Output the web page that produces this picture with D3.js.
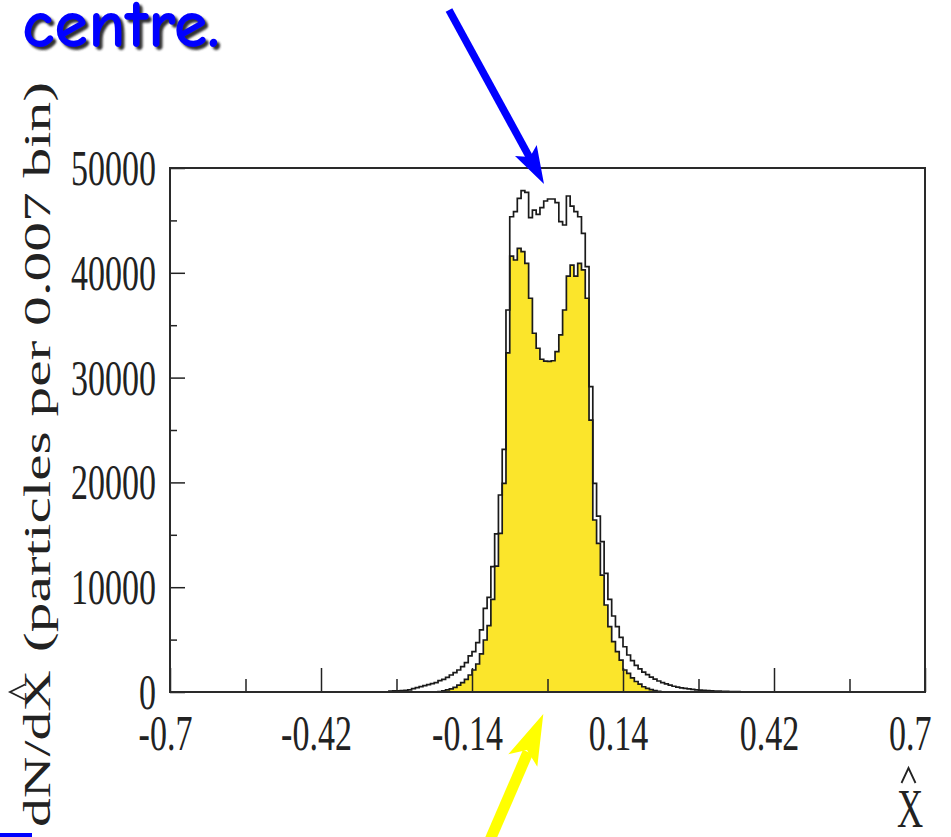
<!DOCTYPE html>
<html><head><meta charset="utf-8">
<script src="https://cdn.jsdelivr.net/npm/d3@7"></script>
<style>body{margin:0;background:#fff;} svg{display:block;}</style>
</head><body>
<svg id="c" width="951" height="837"></svg>
<script>
// ---------------- data ----------------
const binWidth = 0.007;
// all particles (white histogram, outline only)
const totalFirstEdge = -0.294;
const totalCounts = [
  80, 100, 110, 130, 160, 200, 320, 420, 510, 600,
  700, 800, 890, 1080, 1210, 1400, 1620, 1850, 2100, 2420,
  2800, 3440, 3850, 4710, 5920, 7980, 9030, 11960, 15080, 18800,
  23160, 36450, 45350, 45830, 47100, 47840, 47680, 45260, 45990, 45580,
  46210, 46850, 47040, 47040, 46690, 44880, 44560, 47330, 46370, 45830,
  45350, 43770, 40580, 29130, 19910, 16790, 14340, 11320, 8840, 7250,
  6230, 5220, 4320, 3530, 3000, 2550, 2200, 1900, 1650, 1420,
  1220, 1050, 900, 770, 650, 550, 470, 400, 340, 290,
  250, 210, 180, 150, 130, 110, 95, 80, 70, 60,
  50, 45, 40
];
// selected particles (yellow histogram)
const selFirstEdge = -0.203;
const selCounts = [
  50, 100, 200, 300, 450, 650, 900, 1200, 1620, 2100,
  2670, 3630, 4960, 6330, 8840, 12020, 15140, 19910, 32350, 41600,
  41220, 42340, 42020, 40900, 37570, 34230, 32800, 31750, 31580, 31550,
  31610, 32470, 34070, 36450, 39690, 40740, 39690, 40900, 40270, 37570,
  25950, 16410, 14190, 11160, 8300, 6230, 4800, 3850, 3050, 2100,
  1780, 1350, 1000, 750, 500, 350, 220, 130, 70
];
const xMajorTicks = [-0.7, -0.42, -0.14, 0.14, 0.42, 0.7];
const xTickLabels = ["-0.7", "-0.42", "-0.14", "0.14", "0.42", "0.7"];
const xMinorTicks = [-0.56, -0.28, 0, 0.28, 0.56];
const yMajorTicks = [0, 10000, 20000, 30000, 40000, 50000];
const yTickLabels = ["0", "10000", "20000", "30000", "40000", "50000"];
const yMinorTicks = [5000, 15000, 25000, 35000, 45000];
const titleText = "centre.";
const yTitleMain = "dN/dX";
const yTitleRest = "(particles per 0.007 bin)";
const xTitle = "X";

// ---------------- layout ----------------
const svg = d3.select("#c");
const L = 170, R = 925, T = 168, B = 692;
const x = d3.scaleLinear().domain([-0.7, 0.7]).range([L, R]);
const y = d3.scaleLinear().domain([0, 50000]).range([B, T]);
const serif = "'Liberation Serif','Times New Roman',Times,serif";

function squeeze(sel, f) {
  sel.each(function () {
    const w = this.getComputedTextLength();
    d3.select(this).attr("textLength", w * f).attr("lengthAdjust", "spacingAndGlyphs");
  });
}

function stepPoints(firstEdge, counts) {
  const pts = [[firstEdge, 0]];
  counts.forEach((c, i) => pts.push([firstEdge + i * binWidth, c]));
  const end = firstEdge + counts.length * binWidth;
  pts.push([end, counts[counts.length - 1]]);
  pts.push([end, 0]);
  return pts;
}

const line = d3.line().x(d => x(d[0])).y(d => y(d[1])).curve(d3.curveStepAfter);
const area = d3.area().x(d => x(d[0])).y0(y(0)).y1(d => y(d[1])).curve(d3.curveStepAfter);

const totPts = stepPoints(totalFirstEdge, totalCounts);
const selPts = stepPoints(selFirstEdge, selCounts);

svg.append("path").attr("d", area(selPts)).attr("fill", "#FBE52B").attr("stroke", "none");
svg.append("path").attr("d", line(totPts)).attr("fill", "none").attr("stroke", "#1a1a1a").attr("stroke-width", 1.7);
svg.append("path").attr("d", line(selPts)).attr("fill", "none").attr("stroke", "#1a1a1a").attr("stroke-width", 1.7);

// ---------------- axes ----------------
const xAx = svg.append("g").attr("transform", `translate(0,${B})`)
  .call(d3.axisBottom(x).tickValues(xMajorTicks).tickSize(-24).tickPadding(22)
    .tickFormat((d, i) => xTickLabels[i]));
svg.append("g").attr("transform", `translate(0,${B})`)
  .call(d3.axisBottom(x).tickValues(xMinorTicks).tickSize(-13).tickFormat(""));
const yAx = svg.append("g").attr("transform", `translate(${L},0)`)
  .call(d3.axisLeft(y).tickValues(yMajorTicks).tickSize(-15).tickPadding(14)
    .tickFormat((d, i) => yTickLabels[i]));
svg.append("g").attr("transform", `translate(${L},0)`)
  .call(d3.axisLeft(y).tickValues(yMinorTicks).tickSize(-7).tickFormat(""));

svg.selectAll(".domain").remove();
svg.selectAll(".tick line").attr("stroke", "#222").attr("stroke-width", 1.5);
svg.selectAll(".tick text").attr("font-family", serif).attr("font-size", 50).attr("fill", "#222");
xAx.selectAll(".tick text").attr("dx", -5);
xAx.selectAll(".tick text").filter((d, i) => i === xMajorTicks.length - 1)
  .attr("text-anchor", "end").attr("dx", 6);
yAx.selectAll(".tick text").attr("dy", "0.33em");
squeeze(svg.selectAll(".tick text"), 0.68);

// frame
svg.append("rect").attr("x", L).attr("y", T).attr("width", R - L).attr("height", B - T)
  .attr("fill", "none").attr("stroke", "#2a2a2a").attr("stroke-width", 2);

// ---------------- axis titles ----------------
// x title: X with hat
const xt = svg.append("text").attr("x", 910).attr("y", 827).attr("text-anchor", "middle")
  .attr("font-family", serif).attr("font-size", 55).attr("fill", "#222").text(xTitle);
squeeze(xt, 0.66);
svg.append("path").attr("d", "M901.5,783 L908.5,768 L915.5,783").attr("fill", "none")
  .attr("stroke", "#222").attr("stroke-width", 1.8);

// y title (rotated)
const yt1 = svg.append("text").attr("transform", "translate(50,827) rotate(-90)")
  .attr("font-family", serif).attr("font-size", 38).attr("fill", "#222")
  .attr("textLength", 157).attr("lengthAdjust", "spacingAndGlyphs").text(yTitleMain);
const yt2 = svg.append("text").attr("transform", "translate(50,652) rotate(-90)")
  .attr("font-family", serif).attr("font-size", 38).attr("fill", "#222")
  .attr("textLength", 570).attr("lengthAdjust", "spacingAndGlyphs").text(yTitleRest);
svg.append("path").attr("d", "M25,684.5 L10,692 L25,699.5").attr("fill", "none")
  .attr("stroke", "#222").attr("stroke-width", 1.8);

// ---------------- title ----------------
const defs = svg.append("defs");
defs.append("filter").attr("id", "blur").append("feGaussianBlur").attr("stdDeviation", 1.2);
svg.append("text").attr("x", 25).attr("y", 50)
  .attr("font-family", "'Comic Sans MS','Comic Neue','DejaVu Sans',sans-serif")
  .attr("font-weight", "bold").attr("font-size", 68).attr("fill", "#333")
  .attr("filter", "url(#blur)")
  .attr("textLength", 198).attr("lengthAdjust", "spacingAndGlyphs").text(titleText);
svg.append("text").attr("x", 22).attr("y", 47)
  .attr("font-family", "'Comic Sans MS','Comic Neue','DejaVu Sans',sans-serif")
  .attr("font-weight", "bold").attr("font-size", 68).attr("fill", "#0000FF")
  .attr("textLength", 198).attr("lengthAdjust", "spacingAndGlyphs").text(titleText);

// ---------------- arrows ----------------
svg.append("line").attr("x1", 449).attr("y1", 10).attr("x2", 531).attr("y2", 160)
  .attr("stroke", "#0000FF").attr("stroke-width", 7.5);
svg.append("polygon").attr("points", "544,184 536.7,145 530,157 515,156").attr("fill", "#0000FF");

svg.append("line").attr("x1", 490).attr("y1", 840).attr("x2", 528).attr("y2", 752)
  .attr("stroke", "#FFFF00").attr("stroke-width", 11);
svg.append("polygon").attr("points", "543.3,714 537.3,766.7 527,750 508.3,754.3").attr("fill", "#FFFF00");

// bottom-left blue bar
svg.append("rect").attr("x", 0).attr("y", 833).attr("width", 32).attr("height", 4).attr("fill", "#0000FF");
</script>
</body></html>
